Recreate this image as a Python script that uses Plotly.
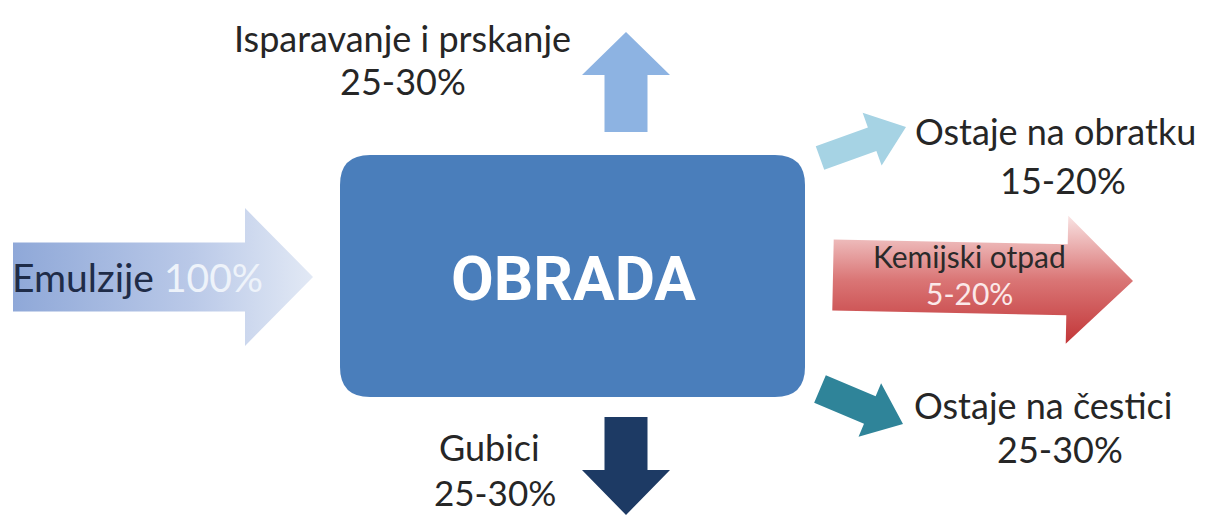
import plotly.graph_objects as go
import numpy as np

# flow labels and shares
out_labels = ["Isparavanje i prskanje", "Ostaje na obratku", "Kemijski otpad",
              "Ostaje na čestici", "Gubici"]
out_shares = ["25-30%", "15-20%", "5-20%", "25-30%", "25-30%"]
in_label = "Emulzije"
in_share = "100%"
center_label = "OBRADA"

W, H = 1205, 515
OFF = 8  # page body margin
FONT = "Lato"


def arrow(tail, tip, shaft_w, head_w, head_len):
    tail = np.array(tail, float)
    tip = np.array(tip, float)
    d = tip - tail
    d /= np.hypot(*d)
    n = np.array([-d[1], d[0]])
    base = tip - d * head_len
    pts = [tail + n * shaft_w / 2, base + n * shaft_w / 2, base + n * head_w / 2, tip,
           base - n * head_w / 2, base - n * shaft_w / 2, tail - n * shaft_w / 2,
           tail + n * shaft_w / 2]
    pts = np.array(pts)
    return pts[:, 0], pts[:, 1]


fig = go.Figure()


def add_arrow(xy, color=None, grad=None):
    x, y = xy
    kw = dict(x=x, y=y, mode="lines", fill="toself", line=dict(width=0),
              hoverinfo="skip", showlegend=False)
    if grad:
        kw["fillgradient"] = grad
    else:
        kw["fillcolor"] = color
    fig.add_trace(go.Scatter(**kw))


# input arrow (left)
add_arrow(arrow((13, 277), (313, 277), 69, 138, 68),
          grad=dict(type="horizontal", colorscale=[[0, "#8fa8d8"], [0.6, "#bac9e8"], [1, "#e2e9f5"]]))
# up
add_arrow(arrow((626, 132), (626, 32), 43, 88, 43), color="#8db3e2")
# up-right
add_arrow(arrow((820, 158), (906, 127), 25, 56, 36), color="#a6d3e4")
# red right
add_arrow(arrow((833, 275), (1133, 281), 71, 128, 66),
          grad=dict(type="vertical", colorscale=[[0, "#c23638"], [0.5, "#da7676"], [1, "#f9e3e3"]]))
# down-right teal
add_arrow(arrow((820, 389), (903, 424), 30, 58, 36), color="#2f8499")
# down
add_arrow(arrow((626, 417), (626, 515), 43, 88, 45), color="#1d3a64")

# central rounded box
x0, x1, y0, y1, r = 340, 805, 155, 397, 30
path = (f"M{x0+r},{y0} L{x1-r},{y0} Q{x1},{y0} {x1},{y0+r} L{x1},{y1-r} Q{x1},{y1} {x1-r},{y1} "
        f"L{x0+r},{y1} Q{x0},{y1} {x0},{y1-r} L{x0},{y0+r} Q{x0},{y0} {x0+r},{y0} Z")
fig.add_shape(type="path", path=path, fillcolor="#4a7ebb", line=dict(width=0), layer="above")

ann = []


def txt(x, y, s, size, color="#262626", bold=False, family=FONT):
    ann.append(dict(x=x, y=y, text=f"<b>{s}</b>" if bold else s, showarrow=False,
                    xanchor="center", yanchor="middle",
                    font=dict(family=family, size=size, color=color)))


txt(573, 278, center_label, 62, "white", True, "Roboto")
ann.append(dict(x=10, y=277, xanchor="left", yanchor="middle", showarrow=False,
                text=f"{in_label} <span style='color:#eef3fa'>{in_share}</span>",
                font=dict(family=FONT, size=39, color="#1f2c48")))
txt(402, 38, out_labels[0], 36)
txt(403, 81, out_shares[0], 36)
txt(1055, 131, out_labels[1], 36)
txt(1063, 180, out_shares[1], 36)
txt(969, 256, out_labels[2], 30, "#2a2a2a")
txt(969, 293, out_shares[2], 30, "#fbe9e9")
txt(1043, 405, out_labels[3], 36)
txt(1060, 449, out_shares[3], 36)
txt(489, 447, out_labels[4], 36)
txt(495, 492, out_shares[4], 35)

fig.update_layout(
    width=W - OFF, height=H - OFF, margin=dict(l=0, r=0, t=0, b=0),
    paper_bgcolor="white", plot_bgcolor="white",
    xaxis=dict(range=[OFF, W], visible=False, fixedrange=True),
    yaxis=dict(range=[H, OFF], visible=False, fixedrange=True),
    annotations=ann,
)
fig.write_html("out.html")
